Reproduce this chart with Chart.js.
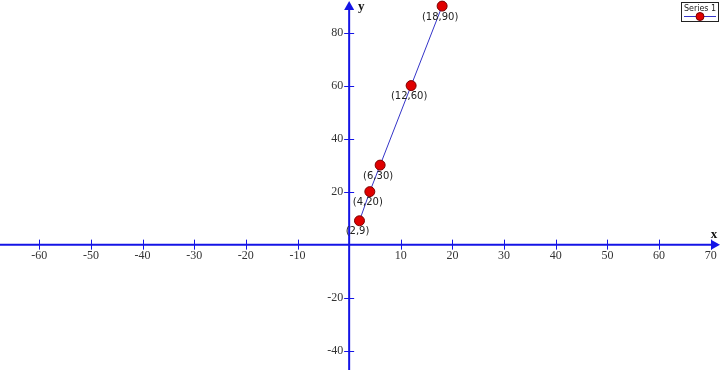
<!DOCTYPE html>
<html>
<head>
<meta charset="utf-8">
<script src="https://cdn.jsdelivr.net/npm/chart.js@4/dist/chart.umd.min.js"></script>
<style>
html,body{margin:0;padding:0;background:#fff;}
#wrap{width:720px;height:370px;}
</style>
</head>
<body>
<div id="wrap"><canvas id="c" width="720" height="370"></canvas></div>
<script>
// ---- data ----
const xValues = [2, 4, 6, 12, 18];
const yValues = [9, 20, 30, 60, 90];
const seriesName = 'Series 1';
const xTicks = [-60, -50, -40, -30, -20, -10, 10, 20, 30, 40, 50, 60, 70];
const yTicks = [-40, -20, 20, 40, 60, 80];
const xLabel = 'x';
const yLabel = 'y';

const AXIS = '#1414e6';
const LINE = '#3434c8';
const PT_FILL = '#e00000';
const PT_EDGE = '#7a0000';

const points = xValues.map((x, i) => ({x: x, y: yValues[i]}));

function arrowHead(ctx, x, y, dir) {
  ctx.beginPath();
  if (dir === 'right') {
    ctx.moveTo(x, y); ctx.lineTo(x - 9, y - 5); ctx.lineTo(x - 9, y + 5);
  } else {
    ctx.moveTo(x, y); ctx.lineTo(x - 5, y + 9); ctx.lineTo(x + 5, y + 9);
  }
  ctx.closePath();
  ctx.fill();
}

const axesPlugin = {
  id: 'axesPlugin',
  beforeDatasetsDraw(chart) {
    const ctx = chart.ctx;
    const xs = chart.scales.x, ys = chart.scales.y;
    const ca = chart.chartArea;
    const x0 = xs.getPixelForValue(0), y0 = ys.getPixelForValue(0);
    ctx.save();
    ctx.strokeStyle = AXIS; ctx.fillStyle = AXIS; ctx.lineWidth = 2;
    // x axis
    ctx.beginPath(); ctx.moveTo(ca.left, y0); ctx.lineTo(ca.right - 4, y0); ctx.stroke();
    arrowHead(ctx, ca.right, y0, 'right');
    // y axis
    ctx.beginPath(); ctx.moveTo(x0, ca.bottom); ctx.lineTo(x0, ca.top + 4); ctx.stroke();
    arrowHead(ctx, x0, ca.top + 1, 'up');
    // tick marks
    ctx.lineWidth = 1;
    xs.ticks.forEach(t => {
      const px = Math.round(xs.getPixelForValue(t.value)) + 0.5;
      ctx.beginPath(); ctx.moveTo(px, y0 - 5); ctx.lineTo(px, y0 + 5); ctx.stroke();
    });
    ys.ticks.forEach(t => {
      const py = Math.round(ys.getPixelForValue(t.value)) + 0.5;
      ctx.beginPath(); ctx.moveTo(x0 - 5, py); ctx.lineTo(x0 + 5, py); ctx.stroke();
    });
    // tick labels
    ctx.fillStyle = '#333';
    ctx.font = '12px "Liberation Serif", serif';
    ctx.textAlign = 'center'; ctx.textBaseline = 'top';
    xs.ticks.forEach(t => {
      ctx.fillText(String(t.value), xs.getPixelForValue(t.value), y0 + 5);
    });
    ctx.textAlign = 'right'; ctx.textBaseline = 'middle';
    ys.ticks.forEach(t => {
      ctx.fillText(String(t.value), x0 - 6, ys.getPixelForValue(t.value));
    });
    // axis titles
    ctx.fillStyle = '#111';
    ctx.font = 'bold 13px "Liberation Serif", serif';
    ctx.textAlign = 'center'; ctx.textBaseline = 'middle';
    ctx.fillText(xLabel, ca.right - 6, y0 - 10);
    ctx.fillText(yLabel, x0 + 12, ca.top + 7);
    ctx.restore();
  },
  afterDatasetsDraw(chart) {
    const ctx = chart.ctx;
    const meta = chart.getDatasetMeta(0);
    ctx.save();
    ctx.fillStyle = '#222';
    ctx.font = '10px "DejaVu Sans", sans-serif';
    ctx.textAlign = 'center'; ctx.textBaseline = 'middle';
    meta.data.forEach((el, i) => {
      ctx.fillText('(' + xValues[i] + ',' + yValues[i] + ')', el.x - 2, el.y + 11);
    });
    // legend box
    const ds = chart.data.datasets[0];
    const bx = 681, by = 2, bw = 38, bh = 20;
    ctx.fillStyle = '#fff'; ctx.fillRect(bx, by, bw, bh);
    ctx.strokeStyle = '#222'; ctx.lineWidth = 1;
    ctx.strokeRect(bx + 0.5, by + 0.5, bw - 1, bh - 1);
    ctx.fillStyle = '#222';
    ctx.font = '8px "DejaVu Sans", sans-serif';
    ctx.textAlign = 'center'; ctx.textBaseline = 'middle';
    ctx.fillText(ds.label, bx + bw / 2, by + 7);
    ctx.strokeStyle = LINE;
    ctx.beginPath(); ctx.moveTo(bx + 3, by + 14.5); ctx.lineTo(bx + bw - 3, by + 14.5); ctx.stroke();
    ctx.fillStyle = PT_FILL; ctx.strokeStyle = PT_EDGE;
    ctx.beginPath(); ctx.arc(bx + bw / 2, by + 14.5, 4, 0, Math.PI * 2); ctx.fill(); ctx.stroke();
    ctx.restore();
  }
};

new Chart(document.getElementById('c'), {
  type: 'scatter',
  data: {
    datasets: [{
      label: seriesName,
      data: points,
      showLine: true,
      borderColor: LINE,
      borderWidth: 1,
      pointBackgroundColor: PT_FILL,
      pointBorderColor: PT_EDGE,
      pointBorderWidth: 1,
      pointRadius: 5,
      clip: false
    }]
  },
  options: {
    responsive: false,
    animation: false,
    layout: {padding: 0, autoPadding: false},
    plugins: {legend: {display: false}, tooltip: {enabled: false}},
    scales: {
      x: {
        type: 'linear', min: -67.6, max: 71.8,
        position: {y: 0},
        grid: {display: false, drawTicks: false},
        border: {display: false},
        ticks: {display: false},
        afterBuildTicks: s => { s.ticks = xTicks.map(v => ({value: v})); }
      },
      y: {
        type: 'linear', min: -47.3, max: 92.3,
        position: {x: 0},
        grid: {display: false, drawTicks: false},
        border: {display: false},
        ticks: {display: false},
        afterBuildTicks: s => { s.ticks = yTicks.map(v => ({value: v})); }
      }
    }
  },
  plugins: [axesPlugin]
});
</script>
</body>
</html>
